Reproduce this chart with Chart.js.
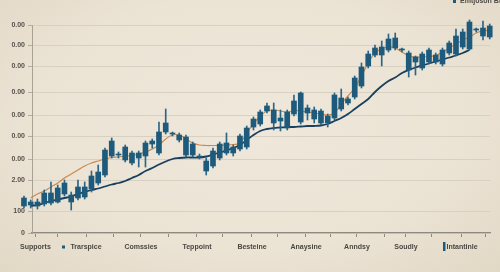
<!DOCTYPE html>
<html>
<head>
<meta charset="utf-8">
<script src="https://cdn.jsdelivr.net/npm/chart.js@4.4.1/dist/chart.umd.min.js"></script>
<style>
  html, body { margin: 0; padding: 0; }
  body {
    width: 500px; height: 272px; overflow: hidden;
    background: radial-gradient(ellipse at 50% 45%, #efe8db 0%, #ebe3d4 60%, #e2d8c6 100%);
  }
  canvas { display: block; }
</style>
</head>
<body>
<canvas id="chart" width="500" height="272"></canvas>
<script>
// candle data, one entry per session
const opens  = [27,28,27,29,30,31,39,38,35,36,44,50,58,77,78,73,80,75,77,89,80,101,99,98,96,89,76,72,67,75,
                80,80,84,86,106,109,122,123,112,105,119,140,120,123,122,117,115,124,130,136,147,167,178,178,183,185,183,180,176,165,
                171,178,169,180,179,186,184,203,197,196];
const closes = [35,31,31,40,40,45,50,31,46,46,57,61,83,92,79,86,70,80,90,92,101,110,100,93,78,78,77,62,82,89,
                90,86,97,105,114,121,127,110,115,121,132,111,125,114,110,110,138,135,134,155,166,179,185,186,194,195,184,163,171,179,
                183,171,183,190,197,201,211,204,205,207];
const highs  = [37,33,34,43,51,48,53,41,53,51,62,68,85,95,81,88,82,82,92,94,111,124,101,100,98,91,79,75,85,91,
                100,88,99,107,116,123,130,130,123,123,138,141,128,126,124,119,140,144,136,157,170,182,188,192,199,200,185,182,177,181,
                185,180,185,192,204,204,213,205,212,209];
const lows   = [25,25,24,27,28,30,37,23,33,34,41,48,56,75,75,71,68,66,66,85,78,99,97,91,76,76,74,58,65,73,
                78,77,82,84,103,107,120,103,102,103,117,109,113,110,108,106,113,122,128,134,145,165,176,167,181,183,181,156,158,163,
                169,169,167,178,177,184,183,201,193,194];

// moving averages
const fastAvg = [null,35,39,42,46,50,55,59,63,67,70,72,74,75.5,76,77,77.5,79,81,84,88,94,98,98,94,90,88,87.5,87.5,87.5,
                 88,88.5,90,100,109,117,122,123,122,121,122.5,122,121,120,119,118,120,129,137,145,157,170,180,184,186,185,181,177,176,176,
                 176.5,177.5,181,185,189,193,196,200,202,203];
const trend   = [null,27,28,30,32,33.5,35,36.5,39,41,43,44.5,46.5,48.5,50,52,55,58,62,65,68.5,71.5,74,75,75.5,75.5,75.5,76.5,78.5,80.5,
                 82.5,85,88,93,98,102,104,105,105.5,106,106,106.5,107,107,107.5,109,112,115,119,124,129,134,141,147,152,155.5,160,163,165.5,167.5,
                 169.5,171.5,173.5,175.5,177.5,180,183,null,null,null];

// axis ticks
const xTickNames = ['Supports','Trarspice','Comssies','Teppoint','Besteine','Anaysine','Anndsy','Soudly','Intantinle'];
const xTickPos   = [1.7, 9.19, 17.33, 25.63, 33.78, 41.78, 49.33, 56.59, 64.89];
const xMinorPos  = [5.04, 13.19, 21.48, 29.48, 37.63, 45.48, 53.48, 60.44, 68.44];
const yTickVals  = [0, 22, 53, 74, 97, 118, 141, 167, 188, 208];
const yTickNames = ['0','100','2.00','0.00','0.00','0.00','0.00','0.00','0.00','0.00'];
const legendName = 'Emtjoson Bro';

const FONT = 'Liberation Sans';
const candleColor = '#1d5a7b';

const bodies = opens.map((o, i) => ({ x: i, y: [o, closes[i]] }));
const wicks  = highs.map((h, i) => ({ x: i, y: [lows[i], h] }));
const asPoints = arr => arr.map((v, i) => ({ x: i, y: v }));

const decor = {
  id: 'decor',
  afterDraw(chart) {
    const { ctx, scales: { x } } = chart;
    ctx.save();
    ctx.fillStyle = candleColor;
    const p1 = x.getPixelForValue(xTickPos[1]);
    ctx.fillRect(p1 - 24, 245.5, 3, 3);
    const p8 = x.getPixelForValue(xTickPos[8]);
    ctx.fillRect(p8 - 19, 242, 2.5, 9);
    ctx.fillRect(453, 0, 3, 3);
    ctx.fillStyle = '#4e4b45';
    ctx.font = 'bold 7px "' + FONT + '"';
    ctx.textBaseline = 'middle';
    ctx.fillText(legendName, 460, 1);
    ctx.restore();
  }
};

new Chart(document.getElementById('chart'), {
  type: 'bar',
  data: {
    datasets: [
      { data: bodies, backgroundColor: candleColor, barThickness: 5, grouped: false, clip: false, order: 0 },
      { data: wicks, backgroundColor: '#2a6687', barThickness: 1, grouped: false, clip: false, order: 0 },
      { type: 'line', data: asPoints(fastAvg), borderColor: '#c98a4e', borderWidth: 1.2,
        pointRadius: 0, tension: 0.4, clip: false, order: 1 },
      { type: 'line', data: asPoints(trend), borderColor: '#183f5e', borderWidth: 1.8,
        pointRadius: 0, tension: 0.4, clip: false, order: 1 }
    ]
  },
  options: {
    responsive: false,
    devicePixelRatio: 1,
    animation: false,
    layout: { padding: { top: 25, right: 10, left: 0, bottom: 0 } },
    plugins: { legend: { display: false }, tooltip: { enabled: false } },
    scales: {
      x: {
        type: 'linear',
        min: 1.19, max: 69.04,
        offset: false,
        bounds: 'data',
        afterBuildTicks: s => {
          s.ticks = xTickPos.concat(xMinorPos).sort((a, b) => a - b).map(v => ({ value: v }));
        },
        afterFit: s => { s.height = 39; },
        grid: { drawOnChartArea: false, offset: false, tickLength: 4, tickColor: '#8f8a80' },
        border: { color: '#8f8a80', width: 1.2 },
        ticks: {
          autoSkip: false, maxRotation: 0, padding: 6,
          color: '#4a4741',
          font: { family: FONT, size: 7, weight: 'bold' },
          callback: v => {
            const k = xTickPos.indexOf(v);
            return k >= 0 ? xTickNames[k] : '';
          }
        }
      },
      y: {
        min: 0, max: 208,
        afterBuildTicks: s => { s.ticks = yTickVals.map(v => ({ value: v })); },
        afterFit: s => { s.width = 32; },
        grid: { color: '#d8d0c1', tickLength: 4, tickColor: '#b3ada2' },
        border: { color: '#a8a296' },
        ticks: {
          padding: 3,
          color: '#55524b',
          font: { family: FONT, size: 7, weight: 'bold' },
          callback: (v, i) => yTickNames[i]
        }
      }
    }
  },
  plugins: [decor]
});
</script>
</body>
</html>
